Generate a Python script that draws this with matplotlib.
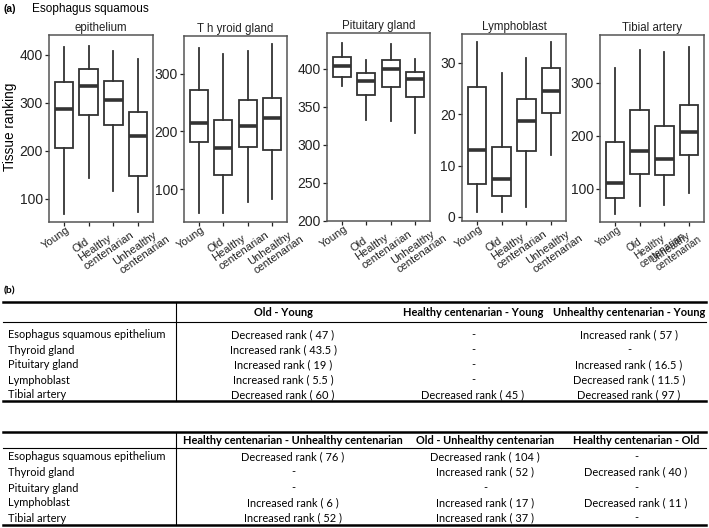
import matplotlib

matplotlib.use("Agg")
import matplotlib.pyplot as plt
import numpy as np

W, H = 709, 528

groups = ["Young", "Old", "Healthy\ncentenarian", "Unhealthy\ncentenarian"]

# box stats per group: whisker low, Q1, median, Q3, whisker high
esophagus = [[69, 205, 288, 343, 415], [143, 274, 334, 370, 419],
             [117, 253, 306, 346, 407], [72, 148, 230, 281, 391]]
thyroid = [[58, 181, 214, 271, 345], [59, 125, 171, 220, 334],
           [78, 173, 210, 254, 339], [82, 167, 223, 257, 351]]
pituitary = [[377, 389, 403.5, 416, 434], [333, 366, 384, 394, 412],
             [331, 376, 400, 412, 433], [316, 363, 387, 396, 413]]
lymphoblast = [[1, 6.4, 13, 25.2, 34], [1, 4.1, 7.4, 13.7, 28],
               [1.9, 12.9, 18.6, 23, 30.9], [12.1, 20.2, 24.5, 29, 34]]
tibial = [[53, 83, 110, 188, 328], [67, 128, 171, 248, 361],
          [69, 125, 156, 218, 358], [91, 164, 207, 258, 367]]

panel_titles = ["epithelium", "T h yroid gland", "Pituitary gland", "Lymphoblast", "Tibial artery"]
panel_stats = [esophagus, thyroid, pituitary, lymphoblast, tibial]
panel_ylims = [(52, 441), (43, 365), (200, 447), (-0.8, 35.6), (37, 390)]
panel_yticks = [[100, 200, 300, 400], [100, 200, 300], [200, 250, 300, 350, 400],
                [0, 10, 20, 30], [100, 200, 300]]
# frame boxes in pixels: left, top, right, bottom
panel_boxes = [(49, 35, 153, 222), (184, 36, 287, 222), (327, 33, 430, 221),
               (462, 34, 566, 221), (600, 35, 704, 222)]
# where the first line of each tick label ends, relative to its tick (px right, px down)
label_shift = [(2, 3), (-3, 14), (-6, 11), (15, 8)]
last_panel_shift = [(2, 3), (-2, 14), (-4, 11), (-3, 8)]

table_rows = ["Esophagus squamous epithelium", "Thyroid gland", "Pituitary gland",
              "Lymphoblast", "Tibial artery"]
table1_cols = ["Old - Young", "Healthy centenarian - Young", "Unhealthy centenarian - Young"]
table1_cells = [
    ["Decreased rank ( 47 )", "-", "Increased rank ( 57 )"],
    ["Increased rank ( 43.5 )", "-", "-"],
    ["Increased rank ( 19 )", "-", "Increased rank ( 16.5 )"],
    ["Increased rank ( 5.5 )", "-", "Decreased rank ( 11.5 )"],
    ["Decreased rank ( 60 )", "Decreased rank ( 45 )", "Decreased rank ( 97 )"],
]
table2_cols = ["Healthy centenarian - Unhealthy centenarian", "Old - Unhealthy centenarian",
               "Healthy centenarian - Old"]
table2_cells = [
    ["Decreased rank ( 76 )", "Decreased rank ( 104 )", "-"],
    ["-", "Increased rank ( 52 )", "Decreased rank ( 40 )"],
    ["-", "-", "-"],
    ["Increased rank ( 6 )", "Increased rank ( 17 )", "Decreased rank ( 11 )"],
    ["Increased rank ( 52 )", "Increased rank ( 37 )", "-"],
]

plt.rcParams["font.family"] = ["Liberation Sans", "DejaVu Sans"]
LINE = "#333333"
TXT = "#222222"
ANGLE = 35

fig = plt.figure(figsize=(W / 100, H / 100), dpi=100)
renderer = fig.canvas.get_renderer()


def px_axes(box):
    x0, y0, x1, y1 = box
    return fig.add_axes([x0 / W, 1 - y1 / H, (x1 - x0) / W, (y1 - y0) / H])


def text_width(s, size):
    t = fig.text(0, 0, s, fontsize=size)
    w = t.get_window_extent(renderer).width
    t.remove()
    return w


d = np.array([np.cos(np.radians(ANGLE)), np.sin(np.radians(ANGLE))])

for i, (title, stats, ylim, yticks, box) in enumerate(
        zip(panel_titles, panel_stats, panel_ylims, panel_yticks, panel_boxes)):
    ax = px_axes(box)
    bxp_stats = [
        {"whislo": s[0], "q1": s[1], "med": s[2], "q3": s[3], "whishi": s[4], "label": g}
        for s, g in zip(stats, groups)
    ]
    ax.bxp(
        bxp_stats,
        positions=range(1, len(groups) + 1),
        widths=0.75,
        showcaps=False,
        showfliers=False,
        patch_artist=True,
        boxprops=dict(facecolor="white", edgecolor=LINE, linewidth=1.3),
        whiskerprops=dict(color=LINE, linewidth=1.3),
        medianprops=dict(color=LINE, linewidth=2.6, solid_capstyle="butt"),
    )
    ax.set_xlim(0.4, 4.6)
    ax.set_ylim(*ylim)
    ax.set_yticks(yticks)
    ax.set_xticks(range(1, len(groups) + 1))
    ax.set_xticklabels([])
    ax.tick_params(axis="y", labelsize=10, colors=TXT, length=3, width=0.9, pad=1.5)
    ax.tick_params(axis="x", length=3, width=0.9, colors=TXT)
    for spine in ax.spines.values():
        spine.set_color("#555555")
        spine.set_linewidth(1.1)
    ax.set_title(title, fontsize=8.3, pad=3, color=TXT)

    # tick labels: first line ends near the tick, further lines left-aligned under it
    last = i == len(panel_titles) - 1
    shifts = last_panel_shift if last else label_shift
    xfs = 7.3 if last else 8.0
    for pos, g, (dx, dy) in zip(range(1, len(groups) + 1), groups, shifts):
        tick = ax.transData.transform((pos, ylim[0]))
        anchor = tick + np.array([dx, -dy])
        w1 = text_width(g.split("\n")[0], xfs)
        start = anchor - w1 * d
        fx, fy = fig.transFigure.inverted().transform(start)
        fig.text(fx, fy, g, fontsize=xfs, color=TXT, rotation=ANGLE,
                 rotation_mode="anchor", ha="left", va="top",
                 multialignment="left", linespacing=1.05)

fig.text(4 / W, 1 - 9 / H, "(a)", fontsize=7.5, fontweight="bold", va="center")
fig.text(32 / W, 1 - 9 / H, "Esophagus squamous", fontsize=8.5, va="center")
fig.text(10 / W, 1 - 127 / H, "Tissue ranking", fontsize=9.8, rotation=90,
         ha="center", va="center")

# tables drawn on a pixel-coordinate overlay
tax = fig.add_axes([0, 0, 1, 1])
tax.set_xlim(0, W)
tax.set_ylim(H, 0)
tax.axis("off")
TFONT = ["Lato", "DejaVu Sans"]
TFS = 7.9

tax.text(4, 291, "(b)", fontsize=7.5, fontweight="bold", va="center", family=TFONT)


def draw_table(cols, cells, col_x, top, header_y, under, row_ys, bottom):
    tax.plot([3, 706], [top, top], color="black", lw=1.8)
    tax.plot([3, 706], [under, under], color="black", lw=0.8)
    tax.plot([3, 706], [bottom, bottom], color="black", lw=1.8)
    tax.plot([176, 176], [top, bottom], color="black", lw=0.8)
    for cx, name in zip(col_x, cols):
        tax.text(cx, header_y, name, ha="center", va="center", fontsize=TFS,
                 fontweight="bold", family=TFONT)
    for ry, label, row in zip(row_ys, table_rows, cells):
        tax.text(8, ry, label, ha="left", va="center", fontsize=TFS, family=TFONT)
        for cx, val in zip(col_x, row):
            tax.text(cx, ry, val, ha="center", va="center", fontsize=TFS, family=TFONT)


draw_table(table1_cols, table1_cells, [283, 473, 629], 302, 313, 322,
           [335, 350, 365, 380, 395], 401)
draw_table(table2_cols, table2_cells, [293, 485, 636], 432, 440, 448,
           [457, 472, 488, 503, 518], 525)

fig.savefig("out.png", dpi=100)
